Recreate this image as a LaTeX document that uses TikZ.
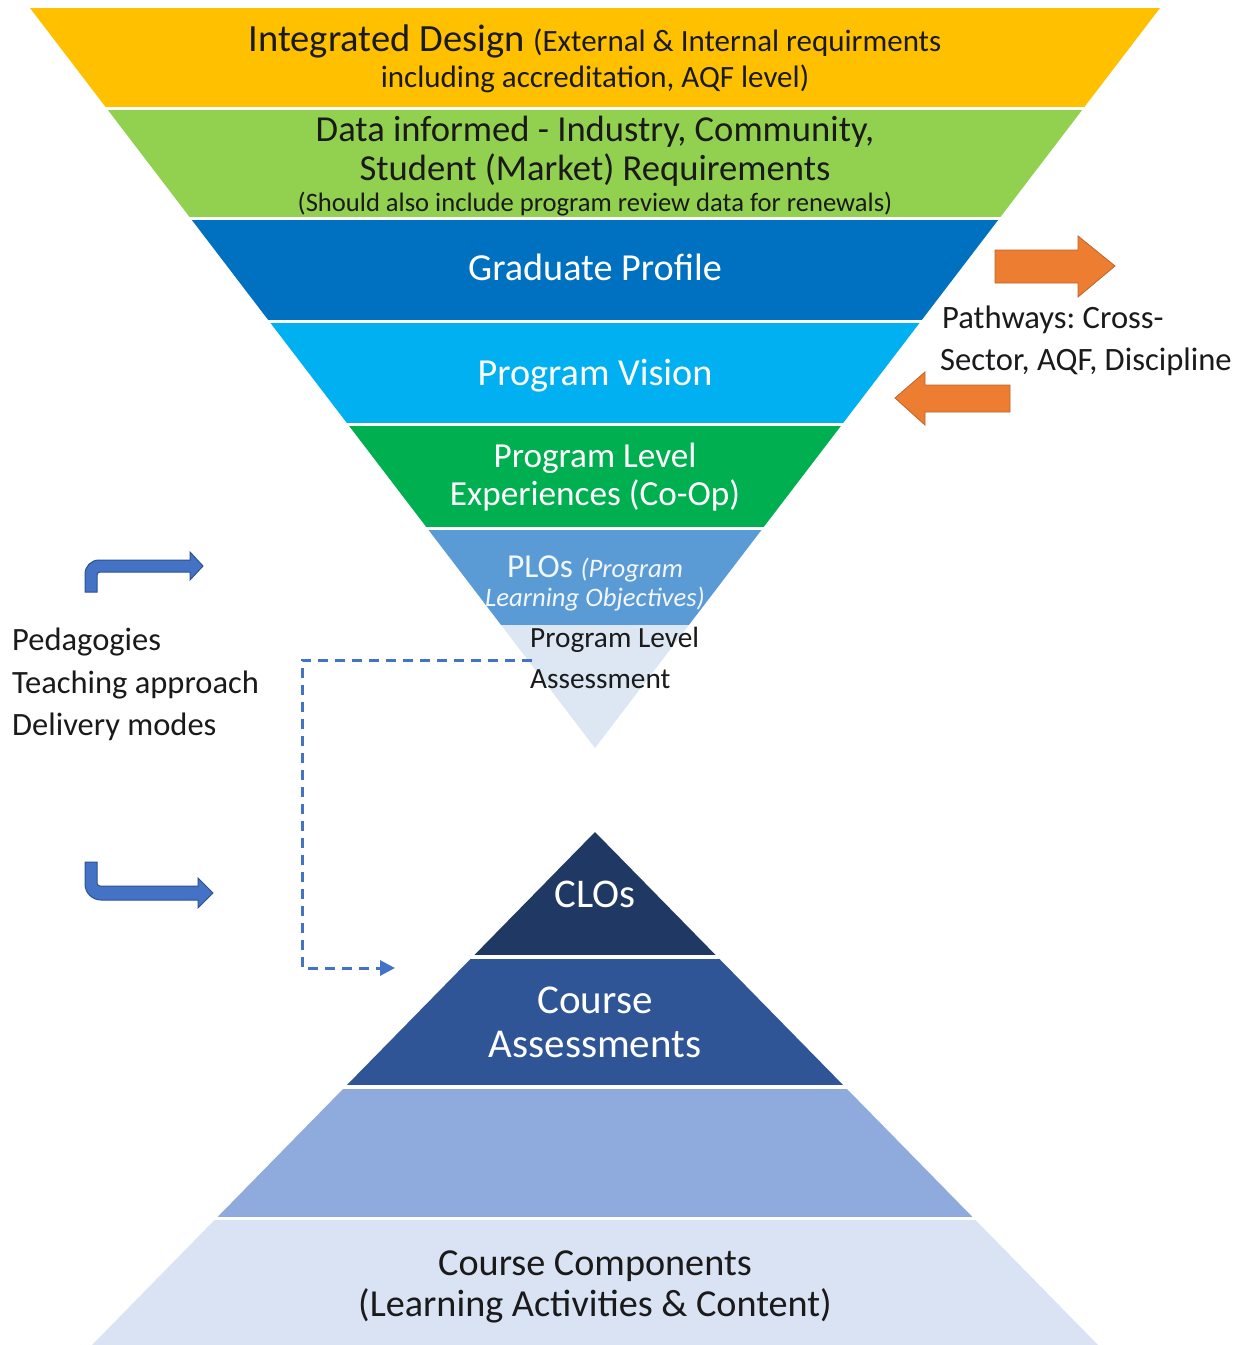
\documentclass[tikz,border=0pt]{standalone}
\usepackage{fontspec}
\setmainfont{Carlito}
\usetikzlibrary{arrows.meta}
\frenchspacing
\definecolor{cYellow}{HTML}{FFC000}
\definecolor{cLime}{HTML}{92D050}
\definecolor{cBlue}{HTML}{0070C0}
\definecolor{cCyan}{HTML}{00B0F0}
\definecolor{cGreen}{HTML}{00B050}
\definecolor{cPLO}{HTML}{5B9BD5}
\definecolor{cPale}{HTML}{DDE7F4}
\definecolor{cNavy}{HTML}{203864}
\definecolor{cCA}{HTML}{2F5597}
\definecolor{cMid}{HTML}{8FAADC}
\definecolor{cPale2}{HTML}{DAE3F3}
\definecolor{cOrange}{HTML}{ED7D31}
\definecolor{cArrow}{HTML}{4472C4}
\definecolor{cArrowDark}{HTML}{2F528F}
\definecolor{cText}{HTML}{1A1A1A}
\newcommand{\myfs}[1]{\fontsize{#1}{#1}\selectfont}
\begin{document}
\begin{tikzpicture}[x=1pt,y=-1pt,
  txt/.style={inner sep=0pt, anchor=base, text=cText},
  wtxt/.style={inner sep=0pt, anchor=base, text=white},
  ltxt/.style={inner sep=0pt, anchor=base west, text=cText},
  orangearrow/.style={fill=cOrange, draw=cOrange!80!black, line width=0.8pt},
  bentarrow/.style={fill=cArrow, draw=cArrowDark, line width=1pt},
  dashlink/.style={draw=cArrow, line width=3pt, dash pattern=on 10pt off 7pt, -{Triangle[length=15pt,width=15pt]}}]
\useasboundingbox (0,0) rectangle (1241,1345);
\fill[white] (0,0) rectangle (1241,1345);
% inverted pyramid
\begin{scope}
\clip (30,8) -- (1160,8) -- (595,748) -- cycle;
\fill[cYellow] (0,8) rectangle (1241,107);
\fill[cLime] (0,110) rectangle (1241,217);
\fill[cBlue] (0,220) rectangle (1241,320);
\fill[cCyan] (0,323) rectangle (1241,423);
\fill[cGreen] (0,426) rectangle (1241,527);
\fill[cPLO] (0,530) rectangle (1241,625);
\fill[cPale] (0,625) rectangle (1241,760);
\end{scope}
% upright pyramid
\begin{scope}
\clip (595,832) -- (1098,1345) -- (92,1345) -- cycle;
\fill[cNavy] (0,820) rectangle (1241,955);
\fill[cCA] (0,959) rectangle (1241,1085);
\fill[cMid] (0,1089) rectangle (1241,1217);
\fill[cPale2] (0,1220) rectangle (1241,1345);
\end{scope}
% texts in inverted pyramid
\node[txt, font=\myfs{38.5}] (id1) at (595,51) {Integrated Design {\myfs{31}(External \& Internal requirments}};
\node[txt, font=\myfs{31}] (id2) at (595,87) {including accreditation, AQF level)};
\node[txt, font=\myfs{36.6}] (di1) at (595,141) {Data informed - Industry, Community,};
\node[txt, font=\myfs{36.6}] (di2) at (595,180) {Student (Market) Requirements};
\node[txt, font=\myfs{26.6}] (di3) at (595,211) {(Should also include program review data for renewals)};
\node[wtxt, font=\myfs{38.2}] (gp) at (595,280) {Graduate Profile};
\node[wtxt, font=\myfs{38.2}] (pv) at (595,385) {Program Vision};
\node[wtxt, font=\myfs{35.2}] (pl1) at (595,467) {Program Level};
\node[wtxt, font=\myfs{35.2}] (pl2) at (595,505) {Experiences (Co-Op)};
\node[wtxt, font=\myfs{33.5}, text=white!92!cPLO] (plo1) at (595,577) {PLOs {\itshape\myfs{26.7}(Program}};
\node[wtxt, font=\itshape\myfs{26.7}, text=white!92!cPLO] (plo2) at (595,606) {Learning Objectives)};
\node[ltxt, font=\myfs{29.3}] (pla1) at (530,647) {Program Level};
\node[ltxt, font=\myfs{29.3}] (pla2) at (530,688) {Assessment};
% pathways
\node[ltxt, font=\myfs{32.6}] (pw1) at (942,328) {Pathways: Cross-};
\node[ltxt, font=\myfs{32.6}] (pw2) at (940,370) {Sector, AQF, Discipline};
\fill[orangearrow] (995,250) -- (1078,250) -- (1078,236) -- (1115,266) -- (1078,297) -- (1078,283) -- (995,283) -- cycle;
\fill[orangearrow] (1010,385) -- (925,385) -- (925,372) -- (895,398) -- (925,425) -- (925,412) -- (1010,412) -- cycle;
% pedagogies
\node[ltxt, font=\myfs{32.5}] (pe1) at (12,650) {Pedagogies};
\node[ltxt, font=\myfs{32.5}] (pe2) at (12,693) {Teaching approach};
\node[ltxt, font=\myfs{32.5}] (pe3) at (12,735) {Delivery modes};
\filldraw[bentarrow] (85,592) [rounded corners=14pt] -- (85,560) [sharp corners] -- (190,560) -- (190,552) -- (203,566) -- (190,580) -- (190,572) [rounded corners=3pt] -- (97,572) [sharp corners] -- (97,592) -- cycle;
\filldraw[bentarrow] (85,862) [rounded corners=16pt] -- (85,900) [sharp corners] -- (198,900) -- (198,908) -- (213,893) -- (198,878) -- (198,886) [rounded corners=3pt] -- (97,886) [sharp corners] -- (97,862) -- cycle;
% dashed link
\coordinate (dstart) at (532,660);
\coordinate (dend) at (395,968);
\draw[dashlink] (dstart) -- ++(-230,0) |- (dend);
% upright pyramid texts
\node[wtxt, font=\myfs{40.8}] (clo) at (595,907) {CLOs};
\node[wtxt, font=\myfs{41}] (ca1) at (595,1013) {Course};
\node[wtxt, font=\myfs{41}] (ca2) at (595,1057) {Assessments};
\node[txt, font=\myfs{38.2}] (cc1) at (595,1275) {Course Components};
\node[txt, font=\myfs{38.2}] (cc2) at (595,1316) {(Learning Activities \& Content)};
\end{tikzpicture}
\end{document}
